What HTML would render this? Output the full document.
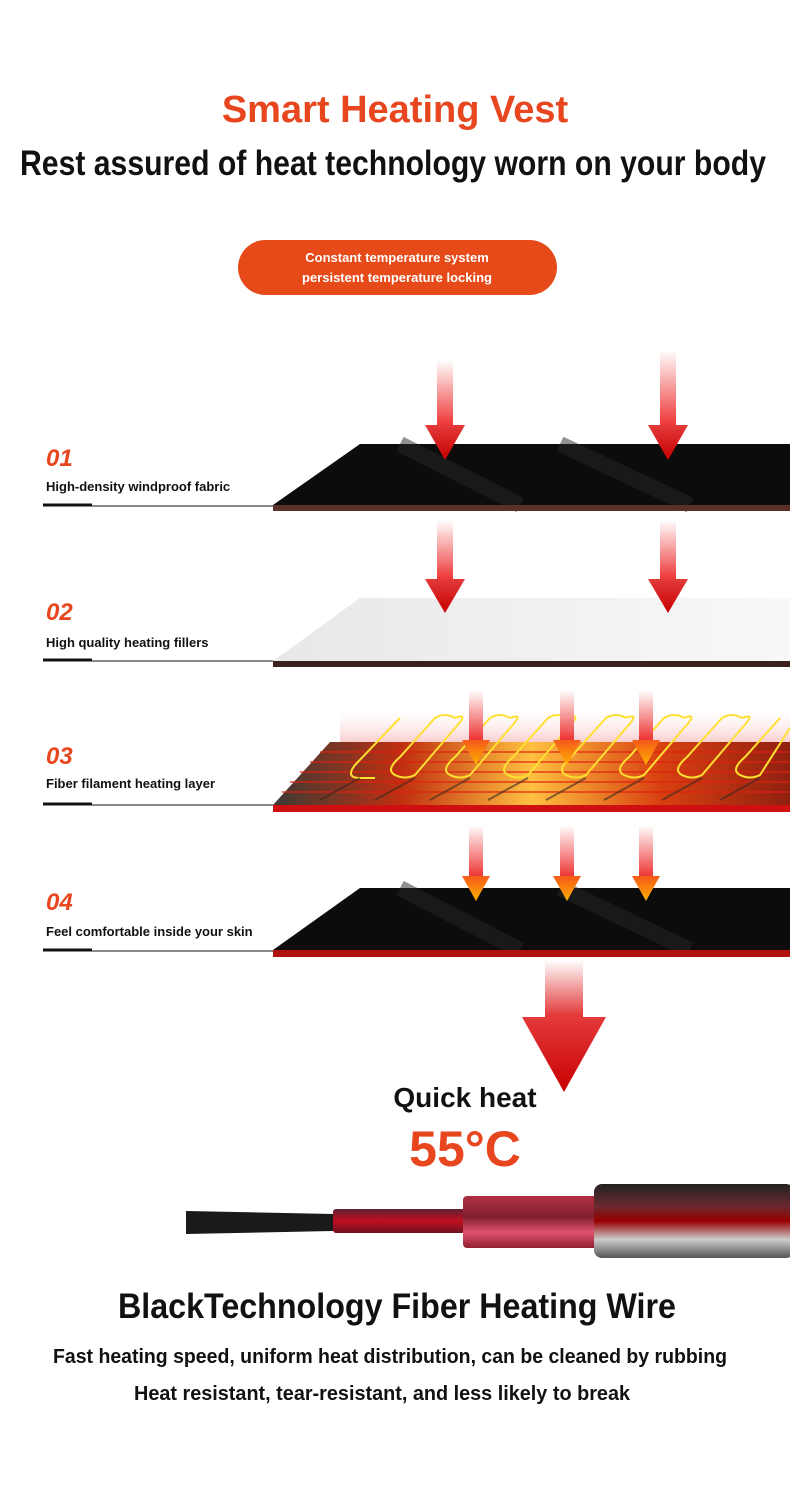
<!DOCTYPE html>
<html><head><meta charset="utf-8"><style>
body{margin:0;background:#fff}
svg{display:block}
text{font-family:"Liberation Sans",sans-serif;font-weight:bold}
</style></head><body>
<svg width="790" height="1488" viewBox="0 0 790 1488" xmlns="http://www.w3.org/2000/svg">
<defs>
<linearGradient id="ar" x1="0" y1="0" x2="0" y2="1"><stop offset="0" stop-color="#fff"/><stop offset="1" stop-color="#e33"/></linearGradient>
<linearGradient id="ah" x1="0" y1="0" x2="0" y2="1"><stop offset="0" stop-color="#e43a3a"/><stop offset="1" stop-color="#c80000"/></linearGradient>
<linearGradient id="ao" x1="0" y1="0" x2="0" y2="1"><stop offset="0" stop-color="#f45a1a"/><stop offset="1" stop-color="#ffb000"/></linearGradient>
<linearGradient id="heat" x1="0" y1="0" x2="1" y2="0"><stop offset="0" stop-color="#3c3a35"/><stop offset="0.25" stop-color="#c03010"/><stop offset="0.5" stop-color="#ffc040"/><stop offset="0.75" stop-color="#d84010"/><stop offset="1" stop-color="#902010"/></linearGradient>
<linearGradient id="wh" x1="0" y1="0" x2="1" y2="0"><stop offset="0" stop-color="#e8e8e8"/><stop offset="1" stop-color="#f8f8f8"/></linearGradient>
<linearGradient id="w1" x1="0" y1="0" x2="0" y2="1"><stop offset="0" stop-color="#222"/><stop offset="0.3" stop-color="#6a2a30"/><stop offset="0.5" stop-color="#900"/><stop offset="0.75" stop-color="#ccc"/><stop offset="1" stop-color="#555"/></linearGradient>
<linearGradient id="w2" x1="0" y1="0" x2="0" y2="1"><stop offset="0" stop-color="#b03040"/><stop offset="0.4" stop-color="#802030"/><stop offset="0.7" stop-color="#e05070"/><stop offset="1" stop-color="#902030"/></linearGradient>
<linearGradient id="w3" x1="0" y1="0" x2="0" y2="1"><stop offset="0" stop-color="#602030"/><stop offset="0.5" stop-color="#c01020"/><stop offset="1" stop-color="#701020"/></linearGradient>
<linearGradient id="big" x1="0" y1="0" x2="0" y2="1"><stop offset="0" stop-color="#fff"/><stop offset="1" stop-color="#e23030"/></linearGradient>
<linearGradient id="glow" x1="0" y1="0" x2="0" y2="1"><stop offset="0" stop-color="#fff" stop-opacity="0"/><stop offset="1" stop-color="#f4a0a0" stop-opacity=".6"/></linearGradient>
</defs>
<text x="395" y="122" text-anchor="middle" font-size="38" fill="#e8461e">Smart Heating Vest</text>
<text x="393" y="175" text-anchor="middle" font-size="35" fill="#111" textLength="746" lengthAdjust="spacingAndGlyphs">Rest assured of heat technology worn on your body</text>
<rect x="238" y="240" width="319" height="55" rx="27.5" fill="#e64a19"/>
<text x="397" y="262" text-anchor="middle" font-size="13" fill="#fff">Constant temperature system</text>
<text x="397" y="282" text-anchor="middle" font-size="13" fill="#fff">persistent temperature locking</text>

<!-- layer 1 -->
<polygon points="273,505 360,444 790,444 790,505" fill="#0c0c0c"/>
<path d="M400,444 L520,505 M560,444 L690,505" stroke="#262626" stroke-width="16" opacity=".5"/>
<rect x="273" y="505" width="517" height="6" fill="#5a3028"/>
<!-- layer 2 -->
<polygon points="273,661 360,598 790,598 790,661" fill="url(#wh)"/>
<rect x="273" y="661" width="517" height="6" fill="#3a2020"/>
<!-- layer 3 -->
<rect x="340" y="705" width="450" height="40" fill="url(#glow)"/>
<polygon points="273,805 330,742 790,742 790,805" fill="url(#heat)"/>
<g stroke="#e02010" stroke-width="1.5" opacity=".8">
<line x1="320" y1="752" x2="790" y2="752"/><line x1="310" y1="762" x2="790" y2="762"/><line x1="300" y1="772" x2="790" y2="772"/><line x1="290" y1="782" x2="790" y2="782"/><line x1="282" y1="792" x2="790" y2="792"/></g>
<g fill="none" stroke-width="2">
<g stroke="#ffe030">
<path d="M400,718 L355,765 Q345,778 360,778 L375,778"/>
<path d="M455,718 Q470,712 455,728 L415,775 Q405,780 395,775 Q385,770 400,757 L435,718 Q445,712 455,718"/>
<path d="M510,718 Q525,712 510,728 L470,775 Q460,780 450,775 Q440,770 455,757 L490,718 Q500,712 510,718"/>
<path d="M568,718 Q583,712 568,728 L528,775 Q518,780 508,775 Q498,770 513,757 L548,718 Q558,712 568,718"/>
<path d="M626,718 Q641,712 626,728 L586,775 Q576,780 566,775 Q556,770 571,757 L606,718 Q616,712 626,718"/>
<path d="M684,718 Q699,712 684,728 L644,775 Q634,780 624,775 Q614,770 629,757 L664,718 Q674,712 684,718"/>
<path d="M742,718 Q757,712 742,728 L702,775 Q692,780 682,775 Q672,770 687,757 L722,718 Q732,712 742,718"/>
<path d="M790,728 L760,775 Q750,780 740,775 Q730,770 745,757 L780,718"/>
</g>
<g stroke="#3a2a20" opacity=".6">
<path d="M360,778 L320,800 M415,778 L375,800 M470,778 L430,800 M528,778 L488,800 M586,778 L546,800 M644,778 L604,800 M702,778 L662,800 M760,778 L720,800"/>
</g></g>
<rect x="273" y="805" width="517" height="7" fill="#d01010"/>
<!-- layer 4 -->
<polygon points="273,950 360,888 790,888 790,950" fill="#0c0c0c"/>
<path d="M400,888 L520,950 M560,888 L690,950" stroke="#262626" stroke-width="16" opacity=".5"/>
<rect x="273" y="950" width="517" height="7" fill="#b01010"/>

<!-- arrows -->
<g>
<rect x="437" y="360" width="16" height="66" fill="url(#ar)"/><polygon points="425,425 465,425 445,460" fill="url(#ah)"/>
<rect x="660" y="350" width="16" height="76" fill="url(#ar)"/><polygon points="648,425 688,425 668,460" fill="url(#ah)"/>
<rect x="437" y="520" width="16" height="60" fill="url(#ar)"/><polygon points="425,579 465,579 445,613" fill="url(#ah)"/>
<rect x="660" y="520" width="16" height="60" fill="url(#ar)"/><polygon points="648,579 688,579 668,613" fill="url(#ah)"/>
<rect x="469" y="690" width="14" height="50" fill="url(#ar)"/><polygon points="462,740 490,740 476,765" fill="url(#ao)"/>
<rect x="560" y="690" width="14" height="50" fill="url(#ar)"/><polygon points="553,740 581,740 567,765" fill="url(#ao)"/>
<rect x="639" y="690" width="14" height="50" fill="url(#ar)"/><polygon points="632,740 660,740 646,765" fill="url(#ao)"/>
<rect x="469" y="825" width="14" height="52" fill="url(#ar)"/><polygon points="462,876 490,876 476,901" fill="url(#ao)"/>
<rect x="560" y="825" width="14" height="52" fill="url(#ar)"/><polygon points="553,876 581,876 567,901" fill="url(#ao)"/>
<rect x="639" y="825" width="14" height="52" fill="url(#ar)"/><polygon points="632,876 660,876 646,901" fill="url(#ao)"/>
<rect x="545" y="960" width="38" height="58" fill="url(#big)"/><polygon points="522,1017 606,1017 564,1092" fill="url(#ah)"/>
</g>

<!-- labels -->
<g font-size="24" font-style="italic" fill="#e8461e">
<text x="46" y="466">01</text><text x="46" y="620">02</text><text x="46" y="764">03</text><text x="46" y="910">04</text></g>
<g font-size="13" fill="#111">
<text x="46" y="491">High-density windproof fabric</text>
<text x="46" y="647">High quality heating fillers</text>
<text x="46" y="788">Fiber filament heating layer</text>
<text x="46" y="936">Feel comfortable inside your skin</text></g>
<g stroke="#111">
<line x1="43" y1="506" x2="273" y2="506" stroke-width="1"/><line x1="43" y1="505" x2="92" y2="505" stroke-width="3"/>
<line x1="43" y1="661" x2="273" y2="661" stroke-width="1"/><line x1="43" y1="660" x2="92" y2="660" stroke-width="3"/>
<line x1="43" y1="805" x2="273" y2="805" stroke-width="1"/><line x1="43" y1="804" x2="92" y2="804" stroke-width="3"/>
<line x1="43" y1="951" x2="273" y2="951" stroke-width="1"/><line x1="43" y1="950" x2="92" y2="950" stroke-width="3"/></g>

<text x="465" y="1107" text-anchor="middle" font-size="28" fill="#111">Quick heat</text>
<text x="465" y="1166" text-anchor="middle" font-size="50" fill="#e8461e">55°C</text>

<!-- wire -->
<polygon points="186,1211 333,1214 333,1231 186,1234" fill="#1a1a1a"/>
<rect x="333" y="1209" width="132" height="24" rx="3" fill="url(#w3)"/>
<rect x="463" y="1196" width="135" height="52" rx="4" fill="url(#w2)"/>
<rect x="594" y="1184" width="200" height="74" rx="8" fill="url(#w1)"/>

<text x="397" y="1318" text-anchor="middle" font-size="35" fill="#111" textLength="558" lengthAdjust="spacingAndGlyphs">BlackTechnology Fiber Heating Wire</text>
<text x="390" y="1363" text-anchor="middle" font-size="20" fill="#111" textLength="674" lengthAdjust="spacingAndGlyphs">Fast heating speed, uniform heat distribution, can be cleaned by rubbing</text>
<text x="382" y="1400" text-anchor="middle" font-size="20" fill="#111" textLength="496" lengthAdjust="spacingAndGlyphs">Heat resistant, tear-resistant, and less likely to break</text>
</svg>
</body></html>
